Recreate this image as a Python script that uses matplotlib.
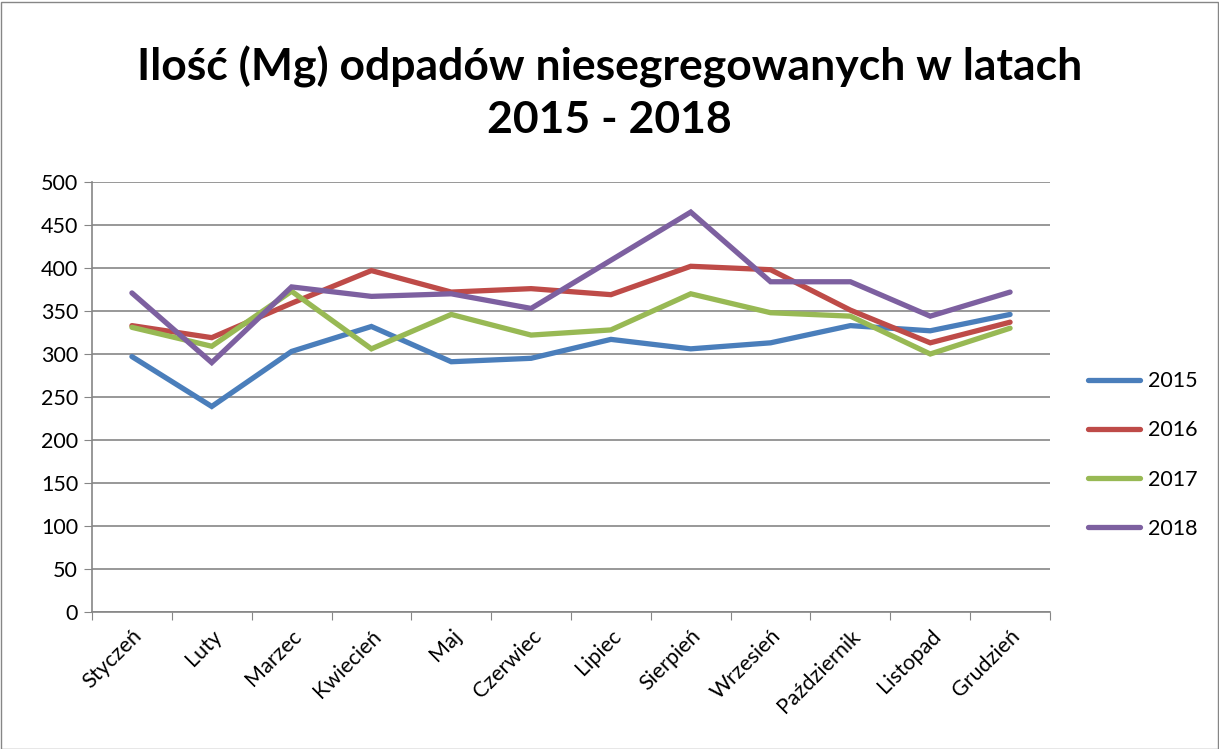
import matplotlib
matplotlib.use("Agg")
import matplotlib.pyplot as plt
from matplotlib.patches import Rectangle

months = ["Styczeń", "Luty", "Marzec", "Kwiecień", "Maj", "Czerwiec", "Lipiec",
          "Sierpień", "Wrzesień", "Październik", "Listopad", "Grudzień"]
s2015 = [297, 239, 303, 332, 291, 295, 317, 306, 313, 333, 327, 346]
s2016 = [333, 319, 359, 397, 372, 376, 369, 402, 398, 351, 313, 337]
s2017 = [331, 309, 373, 306, 346, 322, 328, 370, 348, 344, 300, 330]
s2018 = [371, 290, 378, 367, 370, 353, 409, 465, 384, 384, 344, 372]
series = [("2015", s2015, "#4A7EBB"), ("2016", s2016, "#BE4B48"),
          ("2017", s2017, "#98B954"), ("2018", s2018, "#7D60A0")]
yticks = list(range(0, 501, 50))
title = "Ilość (Mg) odpadów niesegregowanych w latach\n2015 - 2018"

plt.rcParams['font.family'] = ['Lato', 'DejaVu Sans']
W, H = 1219, 749
fig = plt.figure(figsize=(W / 100, H / 100), dpi=100)
fig.patches.append(Rectangle((0.5 / W, 0.5 / H), 1 - 2 / W, 1 - 2 / H,
                             transform=fig.transFigure, fill=False,
                             edgecolor="#868686", linewidth=1))
ax = fig.add_axes([92 / W, 1 - 612 / H, (1050 - 92) / W, (612 - 182) / H])
x = list(range(len(months)))
for name, vals, col in series:
    ax.plot(x, vals, color=col, linewidth=3.8, label=name, solid_capstyle="round",
            solid_joinstyle="miter")
ax.set_xlim(-0.5, len(months) - 0.5)
ax.set_ylim(0, 500)
ax.set_yticks(yticks)
ax.set_yticklabels([str(v) for v in yticks], fontsize=15.5)
ax.set_xticks([i - 0.5 for i in range(len(months) + 1)], minor=False)
ax.set_xticklabels([])
ax.set_xticks(x, minor=True)
ax.set_xticklabels(months, minor=True, rotation=45, ha="right", rotation_mode="anchor",
                   fontsize=15.5)
ax.tick_params(axis="x", which="minor", length=0, pad=10)
ax.tick_params(axis="x", which="major", length=6, color="#868686", direction="out")
ax.tick_params(axis="y", length=6, color="#868686", direction="out", pad=4)
ax.grid(axis="y", color="#868686", linewidth=1.2)
ax.set_axisbelow(True)
for s in ["top", "right"]:
    ax.spines[s].set_visible(False)
for s in ["left", "bottom"]:
    ax.spines[s].set_color("#868686")
    ax.spines[s].set_linewidth(1.2)

fig.text(0.5, 1 - 93 / H, title, ha="center", va="center", fontsize=32,
         fontweight="bold", linespacing=1.38)
ax.legend(loc="center left", bbox_to_anchor=(1069 / W, 1 - 455 / H),
          bbox_transform=fig.transFigure, frameon=False, fontsize=15.5,
          handlelength=2.4, labelspacing=1.35, handletextpad=0.37)
fig.savefig("out.png", dpi=100)
